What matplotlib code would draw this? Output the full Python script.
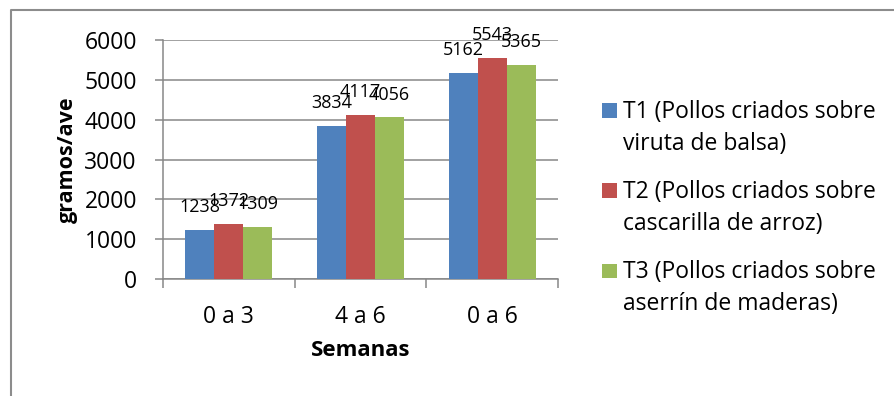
import matplotlib
matplotlib.use("Agg")
import matplotlib.pyplot as plt
from matplotlib.lines import Line2D
from matplotlib.patches import Rectangle
import numpy as np

plt.rcParams['font.family'] = ['Open Sans', 'DejaVu Sans']

categories = ["0 a 3", "4 a 6", "0 a 6"]
series_names = [
    ("T1 (Pollos criados sobre", "viruta de balsa)"),
    ("T2 (Pollos criados sobre", "cascarilla de arroz)"),
    ("T3 (Pollos criados sobre", "aserrín de maderas)"),
]
t1_values = [1238, 3834, 5162]
t2_values = [1372, 4117, 5543]
t3_values = [1309, 4056, 5365]
y_ticks = [0, 1000, 2000, 3000, 4000, 5000, 6000]

colors = ["#4F81BD", "#C0504D", "#9BBB59"]
grid_color = "#878787"

W, H = 894, 396
fig = plt.figure(figsize=(W / 100, H / 100), dpi=100)
ax = fig.add_axes([163 / W, 1 - 279 / H, (558 - 163) / W, (279 - 40) / H])

x = np.arange(len(categories))
bw = 0.22
for i, (vals, col) in enumerate(zip([t1_values, t2_values, t3_values], colors)):
    pos = x + (i - 1) * bw
    ax.bar(pos, vals, width=bw, color=col, zorder=3, linewidth=0)
    for px, v in zip(pos, vals):
        ax.annotate(str(v), (px, v), xytext=(0, 16.5), textcoords="offset points",
                    ha="center", va="center", fontsize=13, color="#000000", zorder=4)

ax.set_xlim(-0.5, 2.5)
ax.set_ylim(0, 6000)
ax.set_yticks(y_ticks)
ax.set_yticklabels([str(t) for t in y_ticks])
ax.yaxis.grid(True, color=grid_color, linewidth=1.1, zorder=0)
ax.set_axisbelow(True)

ax.set_xticks([-0.5, 0.5, 1.5, 2.5])
ax.set_xticklabels([])
ax.set_xticks(x, minor=True)
ax.set_xticklabels(categories, minor=True)
ax.tick_params(axis="x", which="major", direction="out", length=6.5, width=1.1, color=grid_color)
ax.tick_params(axis="x", which="minor", length=0, pad=19, labelsize=16.5)
ax.tick_params(axis="y", direction="out", length=5.8, width=1.1, color=grid_color, pad=13, labelsize=16.5)

for s in ["top", "right"]:
    ax.spines[s].set_visible(False)
for s in ["left", "bottom"]:
    ax.spines[s].set_color(grid_color)
    ax.spines[s].set_linewidth(1.1)

ax.set_xlabel("Semanas", fontsize=16, fontweight="bold", labelpad=8)
ax.set_ylabel("gramos/ave", fontsize=15.5, fontweight="bold", labelpad=5)

# legend: square key aligned with the first line of each two-line entry
first_baseline = 118
line_pitch = 32
entry_pitch = 80
for i, ((line1, line2), col) in enumerate(zip(series_names, colors)):
    base = first_baseline + i * entry_pitch
    fig.add_artist(Rectangle((602 / W, 1 - base / H), 14.5 / W, 14.5 / H,
                             transform=fig.transFigure, facecolor=col, edgecolor="none"))
    fig.text(623 / W, 1 - base / H, line1, fontsize=16.5, va="baseline", ha="left")
    fig.text(623 / W, 1 - (base + line_pitch) / H, line2, fontsize=16.5, va="baseline", ha="left")

# chart area border (left and top edges)
fig.add_artist(Line2D([11 / W, 11 / W, 1.0], [0.0, 1 - 10 / H, 1 - 10 / H],
                      transform=fig.transFigure, color="#8C8C8C", linewidth=1.5))

fig.savefig("out.png", dpi=100, facecolor="white")
